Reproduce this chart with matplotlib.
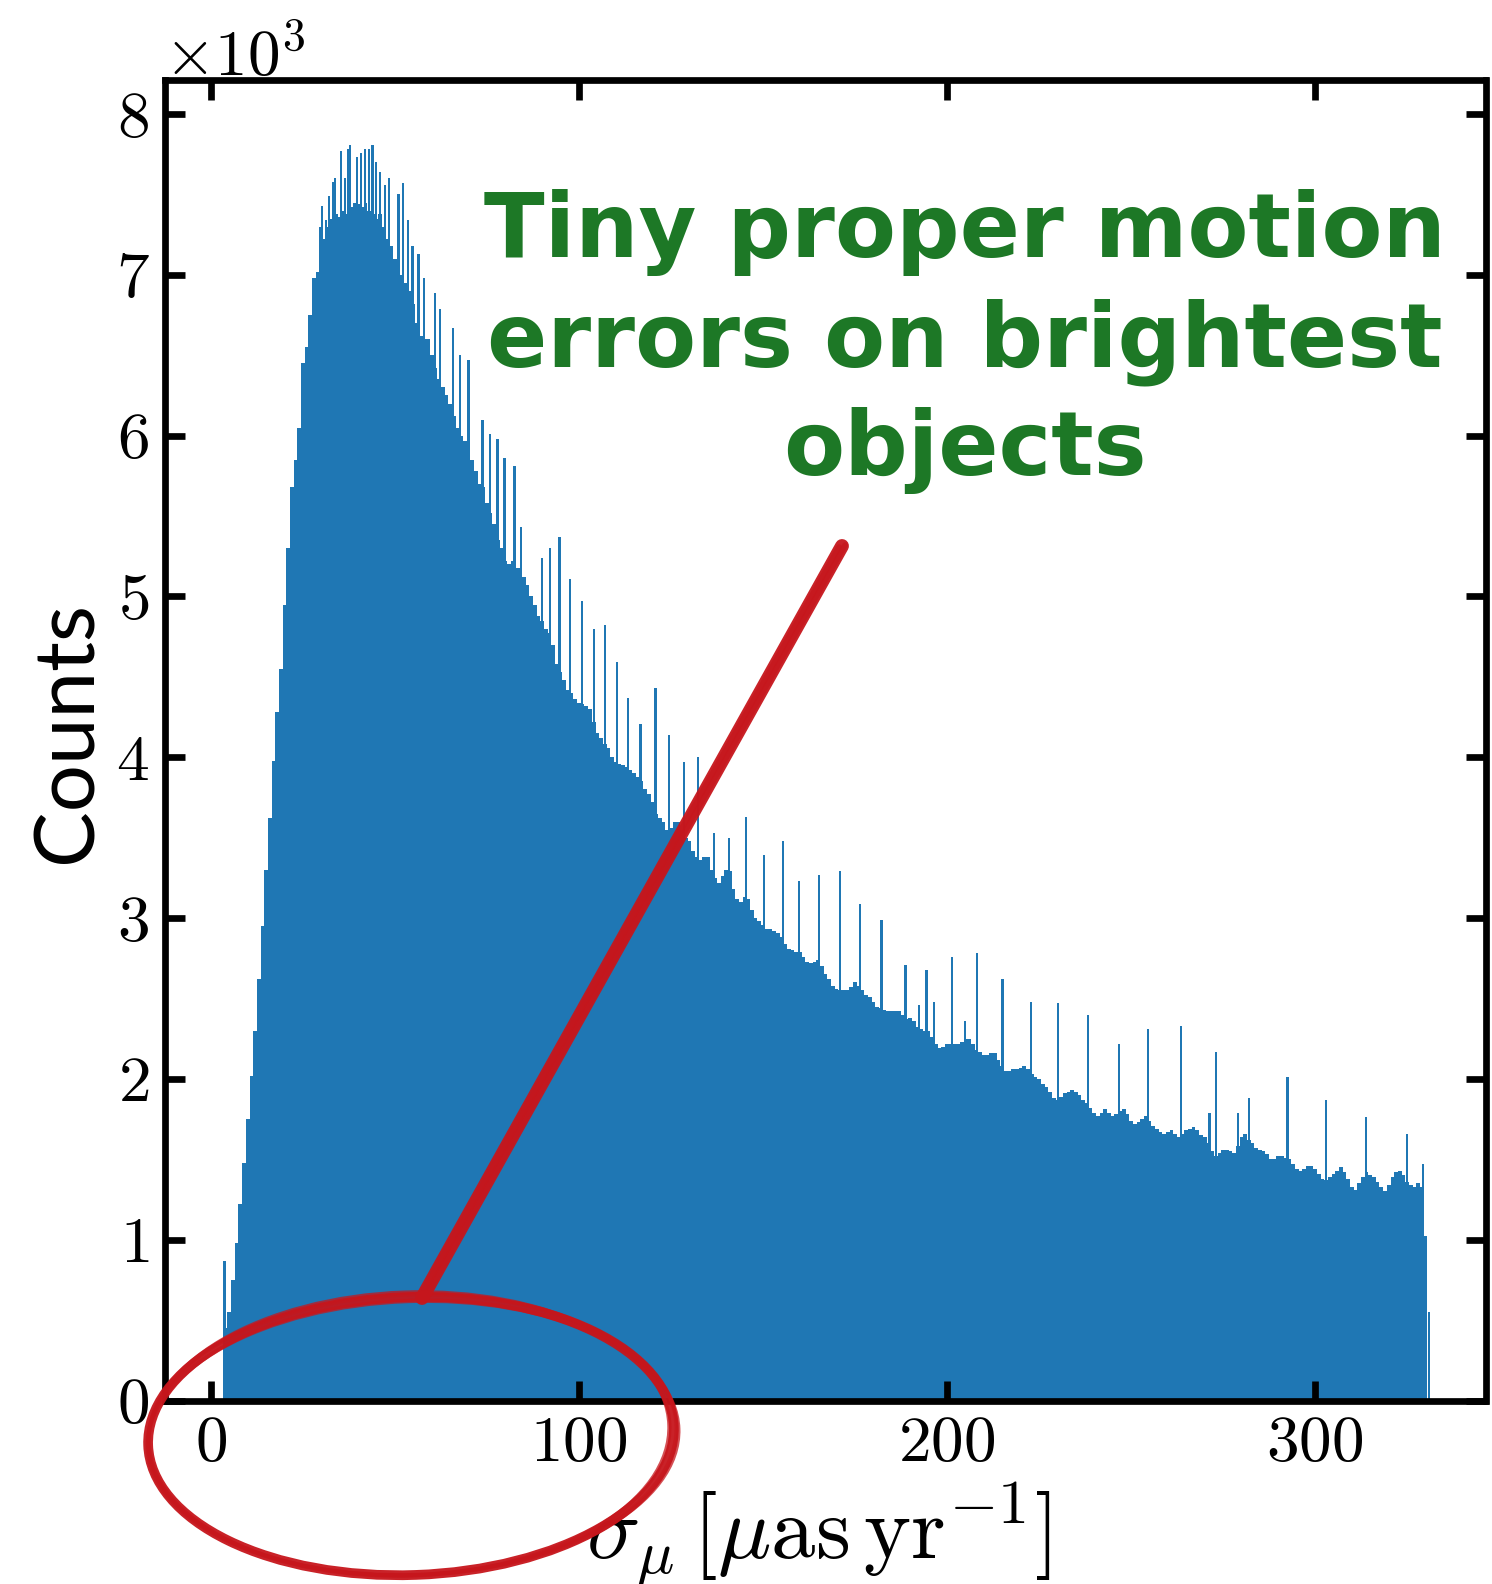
import numpy as np
import matplotlib
matplotlib.use("Agg")
import matplotlib.pyplot as plt
from matplotlib.ticker import ScalarFormatter
from matplotlib.patches import Ellipse
from matplotlib.lines import Line2D
from matplotlib.transforms import IdentityTransform

# ---------------- data (counts in thousands) ----------------
# base histogram: one bin per unit of sigma, bins centred on 4 ... 330
bin_first = 4
bin_last = 330
base_counts_k = [
    0.45, 0.55, 0.75, 0.98, 1.22, 1.48, 1.75, 2.02, 2.30, 2.62,
    2.95, 3.30, 3.62, 3.98, 4.28, 4.55, 4.95, 5.30, 5.68, 5.85,
    6.05, 6.45, 6.55, 6.75, 6.98, 7.02, 7.30, 7.22, 7.30, 7.35,
    7.38, 7.36, 7.40, 7.38, 7.42, 7.45, 7.44, 7.42, 7.45, 7.40,
    7.38, 7.35, 7.38, 7.30, 7.22, 7.18, 7.10, 7.05, 7.00, 6.95,
    6.90, 6.82, 6.70, 6.62, 6.60, 6.60, 6.50, 6.42, 6.35, 6.30,
    6.25, 6.20, 6.12, 6.05, 6.00, 5.97, 5.93, 5.85, 5.78, 5.70,
    5.68, 5.58, 5.52, 5.45, 5.35, 5.30, 5.22, 5.20, 5.22, 5.18,
    5.18, 5.12, 5.07, 5.00, 4.95, 4.88, 4.85, 4.80, 4.77, 4.70,
    4.58, 4.53, 4.48, 4.42, 4.40, 4.36, 4.34, 4.33, 4.32, 4.30,
    4.22, 4.15, 4.12, 4.08, 4.06, 4.00, 3.97, 3.96, 3.95, 3.94,
    3.92, 3.90, 3.88, 3.85, 3.80, 3.77, 3.72, 3.65, 3.62, 3.60,
    3.55, 3.56, 3.60, 3.60, 3.55, 3.50, 3.48, 3.42, 3.38, 3.36,
    3.38, 3.38, 3.30, 3.25, 3.22, 3.26, 3.30, 3.29, 3.18, 3.12,
    3.10, 3.13, 3.12, 3.05, 3.00, 2.98, 2.96, 2.93, 2.93, 2.92,
    2.91, 2.88, 2.84, 2.81, 2.80, 2.79, 2.79, 2.76, 2.73, 2.72,
    2.73, 2.74, 2.70, 2.65, 2.62, 2.58, 2.56, 2.55, 2.55, 2.55,
    2.57, 2.60, 2.58, 2.55, 2.52, 2.51, 2.48, 2.45, 2.44, 2.43,
    2.42, 2.42, 2.42, 2.42, 2.40, 2.37, 2.38, 2.36, 2.32, 2.31,
    2.30, 2.30, 2.26, 2.22, 2.19, 2.20, 2.22, 2.22, 2.22, 2.22,
    2.23, 2.25, 2.25, 2.22, 2.18, 2.17, 2.15, 2.15, 2.16, 2.16,
    2.12, 2.08, 2.05, 2.05, 2.06, 2.06, 2.07, 2.08, 2.06, 2.03,
    2.01, 2.00, 1.97, 1.95, 1.92, 1.88, 1.87, 1.89, 1.91, 1.92,
    1.93, 1.92, 1.90, 1.87, 1.85, 1.82, 1.79, 1.77, 1.79, 1.81,
    1.79, 1.77, 1.78, 1.80, 1.81, 1.78, 1.74, 1.72, 1.73, 1.75,
    1.77, 1.74, 1.71, 1.69, 1.67, 1.66, 1.67, 1.68, 1.66, 1.64,
    1.66, 1.68, 1.69, 1.70, 1.68, 1.65, 1.64, 1.60, 1.55, 1.52,
    1.54, 1.56, 1.56, 1.55, 1.54, 1.58, 1.64, 1.66, 1.62, 1.60,
    1.57, 1.56, 1.55, 1.53, 1.50, 1.50, 1.52, 1.52, 1.51, 1.50,
    1.47, 1.44, 1.43, 1.44, 1.46, 1.46, 1.44, 1.41, 1.38, 1.37,
    1.39, 1.41, 1.43, 1.45, 1.42, 1.38, 1.33, 1.31, 1.35, 1.39,
    1.42, 1.40, 1.39, 1.36, 1.33, 1.30, 1.34, 1.39, 1.42, 1.43,
    1.40, 1.36, 1.34, 1.33, 1.35, 1.33, 1.02,
]

# narrow spike bins sticking out above the base
spike_sigma = [
    3.7, 30.1, 31.3, 32.2, 33.1, 33.7, 35.3, 36.4, 37.2, 37.9,
    39.6, 40.7, 41.8, 42.9, 43.9, 44.9, 46.0, 47.3, 48.5, 51.0,
    52.2, 53.6, 54.8, 56.4, 58.0, 60.9, 62.3, 65.7, 67.7, 70.0,
    73.8, 75.9, 77.9, 79.8, 82.5, 84.3, 90.0, 92.2, 94.7, 97.6,
    100.9, 104.0, 107.0, 110.3, 113.3, 116.7, 120.8, 124.4, 128.5, 132.3,
    136.8, 140.7, 145.3, 150.2, 155.4, 159.7, 165.2, 170.9, 176.3, 182.2,
    188.7, 192.3, 194.4, 196.4, 201.3, 204.8, 208.1, 215.1, 222.8, 230.1,
    238.3, 246.8, 254.6, 263.6, 271.3, 273.0, 279.0, 282.1, 292.5, 302.9,
    313.8, 325.0, 329.3, 331.0,
]
spike_counts_k = [
    0.87, 7.43, 7.34, 7.49, 7.58, 7.60, 7.77, 7.60, 7.78, 7.81,
    7.73, 7.76, 7.78, 7.78, 7.81, 7.70, 7.64, 7.56, 7.60, 7.50,
    7.57, 7.34, 7.18, 7.13, 6.98, 6.89, 6.79, 6.67, 6.50, 6.47,
    6.10, 6.01, 5.98, 5.86, 5.81, 5.43, 5.24, 5.30, 5.37, 5.11,
    4.97, 4.80, 4.82, 4.59, 4.37, 4.21, 4.43, 4.14, 3.97, 4.00,
    3.53, 3.50, 3.63, 3.39, 3.48, 3.23, 3.27, 3.29, 3.09, 2.99,
    2.71, 2.46, 2.68, 2.48, 2.76, 2.36, 2.78, 2.62, 2.48, 2.47,
    2.40, 2.22, 2.31, 2.33, 1.79, 2.17, 1.79, 1.88, 2.01, 1.87,
    1.76, 1.66, 1.47, 0.55,
]

x_ticks = [0, 100, 200, 300]
y_ticks_k = [0, 1, 2, 3, 4, 5, 6, 7, 8]

title_lines = ["Tiny proper motion", "errors on brightest", "objects"]
x_label = r"$\sigma_\mu\,[\mu{\rm as\,yr}^{-1}]$"
y_label = "Counts"

# ---------------- style ----------------
plt.rcParams["font.family"] = "serif"
plt.rcParams["font.serif"] = ["cmr10", "DejaVu Serif"]
plt.rcParams["mathtext.fontset"] = "cm"
plt.rcParams["axes.formatter.use_mathtext"] = True
plt.rcParams["axes.unicode_minus"] = False

W, H = 1492, 1584
DPI = 100
fig = plt.figure(figsize=(W / DPI, H / DPI), dpi=DPI)

ax_l, ax_r, ax_t, ax_b = 164.5, 1485.5, 79.5, 1400.5
ax = fig.add_axes([ax_l / W, 1 - ax_b / H, (ax_r - ax_l) / W, (ax_b - ax_t) / H])

blue = "#1f77b4"
base = np.array(base_counts_k) * 1000.0
centres = np.arange(bin_first, bin_last + 1)
edges = np.append(centres - 0.5, centres[-1] + 0.5)
ax.stairs(base, edges, fill=True, color=blue, linewidth=0)
ax.bar(spike_sigma, np.array(spike_counts_k) * 1000.0, width=0.6,
       color=blue, linewidth=0)

ax.set_xlim(-12.6, 346.3)
ax.set_ylim(0, 8215)
ax.set_xticks(x_ticks)
ax.set_yticks(np.array(y_ticks_k) * 1000)

fmt = ScalarFormatter(useMathText=True)
fmt.set_powerlimits((0, 0))
ax.yaxis.set_major_formatter(fmt)
ax.yaxis.get_offset_text().set_fontsize(47)

lw_pt = 6.7 * 72 / DPI
for s in ax.spines.values():
    s.set_linewidth(lw_pt)
ax.tick_params(which="major", direction="in", length=14.4, width=lw_pt,
               top=True, right=True, labelsize=47)
ax.tick_params(axis="x", pad=11)
ax.tick_params(axis="y", pad=11)
ax.minorticks_off()

# axis labels
fig.text(818 / W, 1 - 1558 / H, x_label, fontsize=64, ha="center",
         va="baseline")
fig.text(91 / W, 1 - 732 / H, y_label, rotation=90, rotation_mode="anchor",
         ha="center", va="baseline", fontsize=60,
         family=["Lato", "DejaVu Sans"])

# annotation text
green = "#1d7826"
for line, yb in zip(title_lines, [257, 367, 475]):
    fig.text(965 / W, 1 - yb / H, line, ha="center", va="baseline",
             fontsize=64, fontweight="bold", color=green,
             family=["DejaVu Sans"])

# hand-drawn red ellipse and pointer line (figure pixel coordinates)
red = "#c6161c"
tr = IdentityTransform()
for dx, dy, dw, dh, lw, a in [(0, 0, 0, 0, 7.0, 0.95), (2, -2, 5, -4, 3.0, 0.75),
                              (-2, 2, -5, 5, 3.0, 0.75), (1, 1, 2, 2, 2.0, 0.6)]:
    e = Ellipse((411 + dx, H - 1436 + dy), 526 + dw, 278 + dh, angle=2,
                fill=False, edgecolor=red, linewidth=lw, alpha=a,
                transform=tr, zorder=20)
    fig.add_artist(e)
for dx, dy, lw, a in [(0, 0, 10.0, 0.95), (3, 1, 4, 0.75), (-3, -1, 4, 0.75)]:
    ln = Line2D([422 + dx, 842 + dx], [H - 1298 + dy, H - 546 + dy],
                color=red, linewidth=lw, alpha=a, solid_capstyle="round",
                transform=tr, zorder=20)
    fig.add_artist(ln)

fig.savefig("out.png", dpi=DPI)
